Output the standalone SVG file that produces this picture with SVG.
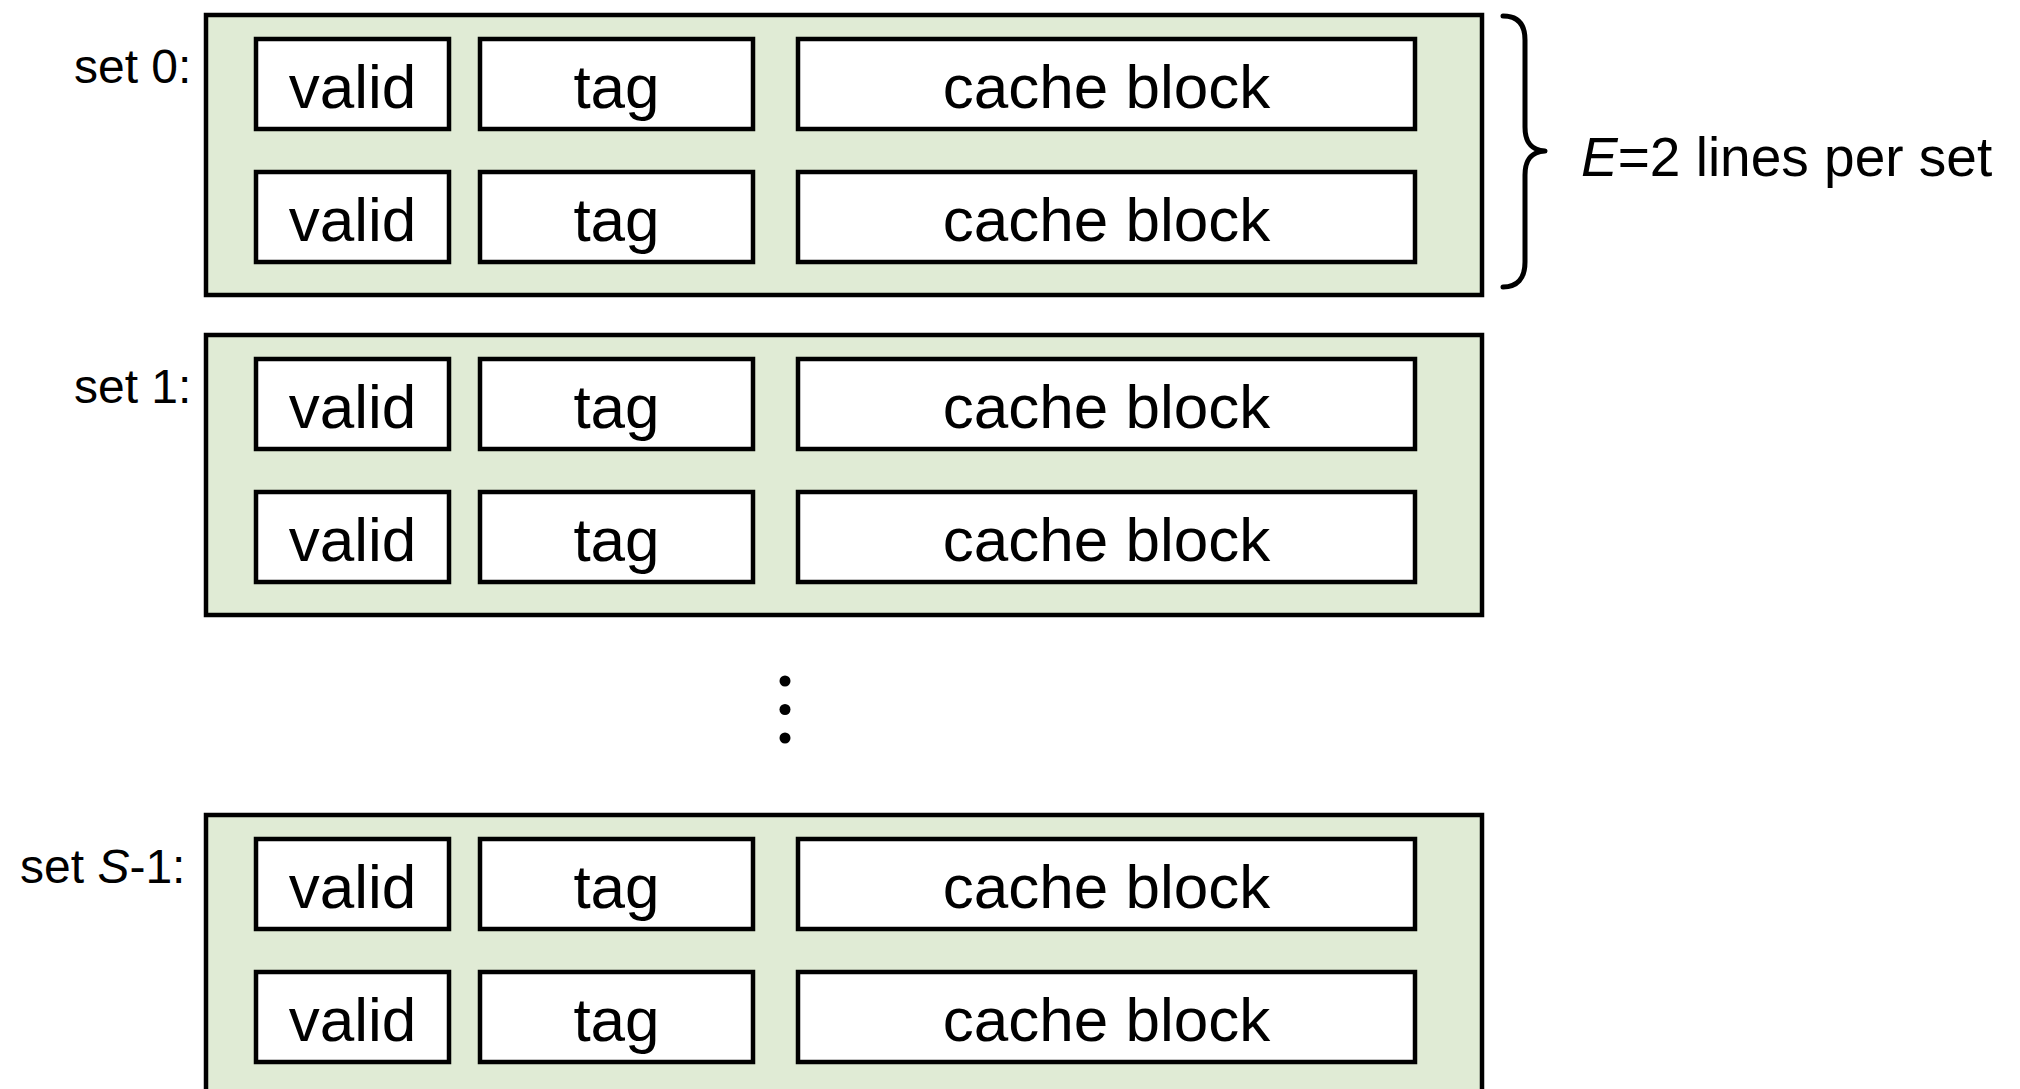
<svg xmlns="http://www.w3.org/2000/svg" width="2020" height="1089" viewBox="0 0 2020 1089">
  <style>
    .set { fill: #e0ebd5; stroke: #000; stroke-width: 4.5; }
    .field { fill: #fff; stroke: #000; stroke-width: 4.5; }
    .lbl { font-family: "Liberation Sans", Arial, sans-serif; font-size: 62px; fill: #000; text-anchor: middle; }
    .setname { font-family: "Liberation Sans", Arial, sans-serif; font-size: 48px; fill: #000; }
    .note { font-family: "Liberation Sans", Arial, sans-serif; font-size: 55px; fill: #000; }
    .brace { fill: none; stroke: #000; stroke-width: 5; stroke-linecap: round; stroke-linejoin: round; }
  </style>
  <defs>
    <!-- one cache line: valid bit, tag, data block -->
    <g id="line">
      <rect class="field" x="256" y="0" width="193" height="90"/>
      <rect class="field" x="480" y="0" width="273" height="90"/>
      <rect class="field" x="798" y="0" width="617" height="90"/>
      <text class="lbl" x="352.5" y="69">valid</text>
      <text class="lbl" x="616.5" y="69">tag</text>
      <text class="lbl" x="1106.5" y="69">cache block</text>
    </g>
  </defs>
  <rect width="2020" height="1089" fill="#fff"/>

  <g id="set0">
    <text class="setname" x="74" y="83">set 0:</text>
    <rect class="set" x="206" y="15" width="1276" height="280"/>
    <use href="#line" y="39"/>
    <use href="#line" y="172"/>
  </g>

  <g id="set1">
    <text class="setname" x="74" y="403">set 1:</text>
    <rect class="set" x="206" y="335" width="1276" height="280"/>
    <use href="#line" y="359"/>
    <use href="#line" y="492"/>
  </g>

  <g id="ellipsis">
    <circle cx="785" cy="681" r="5.5"/>
    <circle cx="785" cy="709.5" r="5.5"/>
    <circle cx="785" cy="738" r="5.5"/>
  </g>

  <g id="setLast">
    <text class="setname" x="20" y="883">set <tspan font-style="italic">S</tspan>-1:</text>
    <rect class="set" x="206" y="815" width="1276" height="280"/>
    <use href="#line" y="839"/>
    <use href="#line" y="972"/>
  </g>

  <g id="lines-per-set">
    <path class="brace" d="M1503,16 C1517,16 1525,23 1525,40 L1525,127 C1525,142 1531,150 1545,151 C1531,152 1525,160 1525,175 L1525,262 C1525,279 1517,287 1503,287"/>
    <text class="note" x="1581" y="176"><tspan font-style="italic">E</tspan>=2 lines per set</text>
  </g>
</svg>
